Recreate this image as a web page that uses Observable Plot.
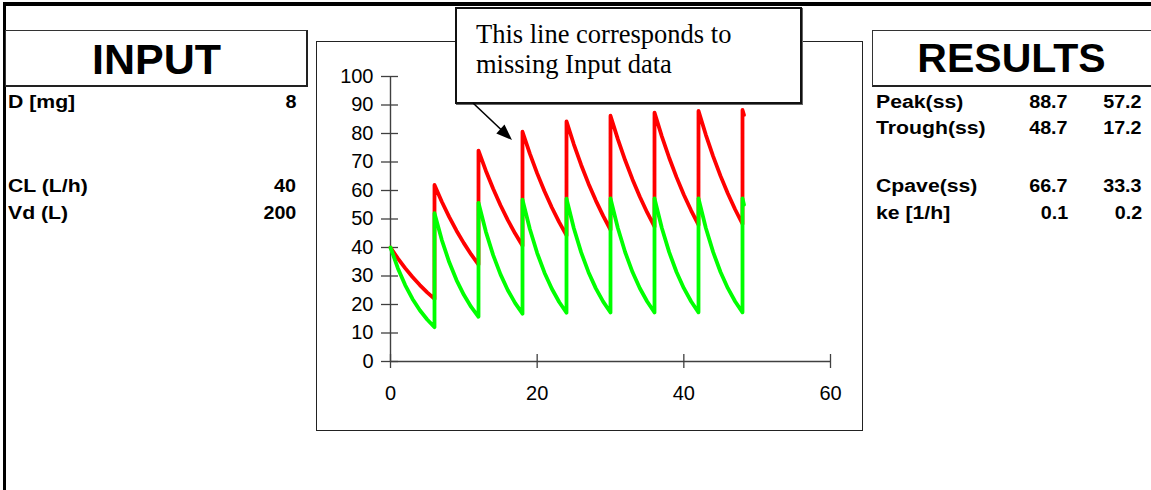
<!DOCTYPE html>
<html>
<head>
<meta charset="utf-8">
<script src="https://cdn.jsdelivr.net/npm/d3@7"></script>
<script src="https://cdn.jsdelivr.net/npm/@observablehq/plot@0.6"></script>
<style>
html, body { margin: 0; padding: 0; background: #fff; }
#page { position: relative; width: 1151px; height: 490px; overflow: hidden; background: #fff;
  font-family: Arial, "Liberation Sans", Helvetica, sans-serif; color: #000; }
.bar-top { position: absolute; left: 3px; top: 2px; width: 1148px; height: 4px; background: #000; }
.bar-left { position: absolute; left: 3px; top: 2px; width: 3px; height: 488px; background: #000; }
.hbox { position: absolute; top: 30px; height: 57px; box-sizing: border-box; border: 1px solid #333;
  border-right: 2px solid #222; border-bottom: 2px solid #222; background: #fff; }
.htext { position: absolute; font-weight: bold; line-height: 1; white-space: nowrap; text-align: center; }
.row { position: absolute; font-weight: bold; font-size: 18.8px; line-height: 18.8px; white-space: nowrap; }
.lab { transform: scaleX(1.13); transform-origin: 0 0; }
.val { text-align: right; transform: scaleX(1.05); transform-origin: 100% 0; }
#frame { position: absolute; left: 316px; top: 41px; width: 547px; height: 390px; box-sizing: border-box;
  border: 1.5px solid #222; }
#chart { position: absolute; left: 316px; top: 41px; }
#callout { position: absolute; left: 455px; top: 7px; width: 347px; height: 97px; box-sizing: border-box;
  border: 2px solid #111; box-shadow: 1px 1px 0 #666; background: #fff;
  font-family: "Times New Roman", "Liberation Serif", serif; font-size: 26.5px; line-height: 29.5px;
  padding: 11px 0 0 19px; white-space: nowrap; }
#arrow { position: absolute; left: 0; top: 0; overflow: visible; }
</style>
</head>
<body>
<div id="page">
  <div class="bar-top"></div>
  <div class="bar-left"></div>
  <div id="frame"></div>
  <div id="chart"></div>
  <div id="panels"></div>
  <div id="callout"></div>
  <svg id="arrow" width="1151" height="490">
    <line x1="473" y1="103" x2="501" y2="129.5" stroke="#000" stroke-width="1.6"></line>
    <polygon points="512,140 496.3,133.4 504.5,124.6" fill="#000"></polygon>
  </svg>
</div>
<script>
// ---- data ----
const timeHours = [
  0,1,2,3,4,5,6,
  6,7,8,9,10,11,12,
  12,13,14,15,16,17,18,
  18,19,20,21,22,23,24,
  24,25,26,27,28,29,30,
  30,31,32,33,34,35,36,
  36,37,38,39,40,41,42,
  42,43,44,45,46,47,48,
  48,48.2
];
// red curve (ke = 0.1 1/h)
const concRed = [
  40.00,36.19,32.75,29.63,26.81,24.26,21.95,
  61.95,56.05,50.72,45.89,41.53,37.57,34.00,
  74.00,66.96,60.59,54.82,49.60,44.88,40.61,
  80.61,72.94,66.00,59.72,54.03,48.89,44.24,
  84.24,76.22,68.97,62.41,56.47,51.09,46.23,
  86.23,78.02,70.60,63.88,57.80,52.30,47.32,
  87.32,79.01,71.49,64.69,58.53,52.96,47.92,
  87.92,79.55,71.98,65.13,58.93,53.33,48.25,
  88.25,86.50
];
// green curve (ke = 0.2 1/h)
const concGreen = [
  40.00,32.75,26.81,21.95,17.97,14.72,12.05,
  52.05,42.61,34.89,28.57,23.39,19.15,15.68,
  55.68,45.59,37.32,30.56,25.02,20.48,16.77,
  56.77,46.48,38.05,31.16,25.51,20.88,17.10,
  57.10,46.75,38.28,31.34,25.66,21.01,17.20,
  57.20,46.83,38.34,31.39,25.70,21.04,17.23,
  57.23,46.86,38.36,31.41,25.72,21.05,17.24,
  57.24,46.86,38.37,31.41,25.72,21.06,17.24,
  57.24,55.00
];
const xTicks = [0, 20, 40, 60];
const yTicks = [0, 10, 20, 30, 40, 50, 60, 70, 80, 90, 100];

const inputTitle = "INPUT";
const inputLabels = ["D [mg]", "CL (L/h)", "Vd (L)"];
const inputValues = ["8", "40", "200"];
const resultsTitle = "RESULTS";
const resultLabels = ["Peak(ss)", "Trough(ss)", "Cpave(ss)", "ke [1/h]"];
const resultCol1 = ["88.7", "48.7", "66.7", "0.1"];
const resultCol2 = ["57.2", "17.2", "33.3", "0.2"];
const calloutLines = ["This line corresponds to", "missing Input data"];

// ---- panels (HTML text) ----
const panels = document.getElementById("panels");
function add(cls, text, style) {
  const d = document.createElement("div");
  d.className = cls;
  d.textContent = text;
  Object.assign(d.style, style);
  panels.appendChild(d);
  return d;
}
const rowTop = (baseline) => (baseline - 15.9) + "px";
// INPUT header
add("hbox", "", {left: "5px", width: "303px"});
add("htext", inputTitle, {left: "5px", width: "303px", top: (74 - 36.4) + "px", fontSize: "43px"});
const inputBaselines = [109, 193, 220];
inputLabels.forEach((t, i) => add("row lab", t, {left: "8px", top: rowTop(inputBaselines[i])}));
inputValues.forEach((t, i) => add("row val", t, {right: (1151 - 296) + "px", top: rowTop(inputBaselines[i])}));
// RESULTS header
add("hbox", "", {left: "872px", width: "300px"});
add("htext", resultsTitle, {left: "872px", width: "279px", top: (72 - 34.5) + "px", fontSize: "41px"});
const resultBaselines = [109, 135, 193, 220];
resultLabels.forEach((t, i) => add("row lab", t, {left: "876px", top: rowTop(resultBaselines[i])}));
resultCol1.forEach((t, i) => add("row val", t, {right: (1151 - 1068) + "px", top: rowTop(resultBaselines[i])}));
resultCol2.forEach((t, i) => add("row val", t, {right: (1151 - 1142) + "px", top: rowTop(resultBaselines[i])}));

// callout
const callout = document.getElementById("callout");
callout.innerHTML = calloutLines.map(s => "<div>" + s + "</div>").join("");

// ---- chart ----
const redData = timeHours.map((t, i) => ({t, c: concRed[i]}));
const greenData = timeHours.map((t, i) => ({t, c: concGreen[i]}));
const axisColor = "#404040";

const chart = Plot.plot({
  width: 546,
  height: 389,
  marginLeft: 74,
  marginRight: 32,
  marginTop: 35,
  marginBottom: 69,
  style: {fontFamily: "Arial, 'Liberation Sans', sans-serif", fontSize: "20px", color: "#000", background: "transparent", overflow: "visible"},
  x: {domain: [0, 60]},
  y: {domain: [0, 100]},
  marks: [
    Plot.ruleY([0], {stroke: axisColor, strokeWidth: 1.4}),
    Plot.ruleX([0], {stroke: axisColor, strokeWidth: 1.4}),
    Plot.axisY({ticks: yTicks, tickSize: 17, dx: 8, tickFormat: () => "", label: null, stroke: axisColor, strokeWidth: 1.3}),
    Plot.axisY({ticks: yTicks, tickSize: 0, tickPadding: 17, label: null, fill: "#000"}),
    Plot.axisX({ticks: xTicks, tickSize: 14, dy: -7, tickFormat: () => "", label: null, stroke: axisColor, strokeWidth: 1.3}),
    Plot.axisX({ticks: xTicks, tickSize: 0, tickPadding: 24, label: null, fill: "#000"}),
    Plot.line(redData, {x: "t", y: "c", stroke: "#ff0000", strokeWidth: 3.8, strokeLinejoin: "round", strokeLinecap: "round"}),
    Plot.line(greenData, {x: "t", y: "c", stroke: "#00ff00", strokeWidth: 3.8, strokeLinejoin: "round", strokeLinecap: "round"})
  ]
});
document.getElementById("chart").appendChild(chart);
</script>
</body>
</html>
